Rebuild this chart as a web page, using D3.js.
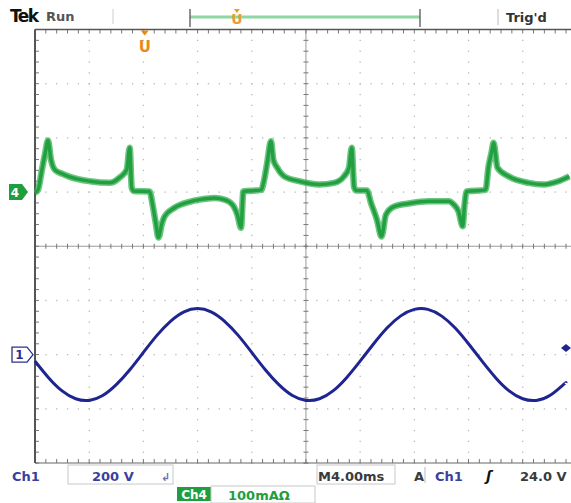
<!DOCTYPE html>
<html>
<head>
<meta charset="utf-8">
<script src="https://cdn.jsdelivr.net/npm/d3@7"></script>
<style>
  body { margin: 0; background: #fff; }
  svg text { font-family: "DejaVu Sans", Verdana, sans-serif; }
</style>
</head>
<body>
<div id="scope"></div>
<script>
// Ch1 (blue) voltage trace, time in ms, volts
var ch1Time  = [-20, -19, -18, -17, -16, -15, -14, -13, -12, -11, -10, -9, -8, -7, -6, -5, -4, -3, -2, -1,
                0, 1, 2, 3, 4, 5, 6, 7, 8, 9, 10, 11, 12, 13, 14, 15, 16, 17, 18, 19, 19.2];
var ch1Volts = [-24, -85, -134, -163, -169, -151, -111, -56, 8, 71, 123, 158, 170, 158, 123, 71, 8, -56, -111, -151,
                -169, -163, -134, -85, -24, 40, 99, 143, 167, 167, 143, 99, 40, -24, -85, -134, -163, -169, -151, -111, -104];

// Ch4 (green) current trace, time in ms, mA
var ch4Time = [-20.0, -19.78, -19.49, -19.27, -19.04, -18.82, -18.53, -18.01, -17.43, -15.95, -14.48, -13.74, -13.23,
               -13.01, -12.86, -12.71, -11.54, -11.32, -11.10, -10.88, -10.65, -10.43, -9.70, -8.59, -7.86, -6.75,
               -6.02, -5.43, -5.06, -4.79, -4.62, -3.30, -3.08, -2.86, -2.58, -2.41, -2.12, -1.60, -0.50, 0.97,
               2.08, 2.81, 3.18, 3.38, 3.55, 3.69, 4.50, 4.80, 5.24, 5.58, 5.90, 6.49, 7.59, 9.06, 10.54, 10.91,
               11.27, 11.57, 11.71, 11.86, 13.26, 13.48, 13.70, 13.85, 14.14, 14.95, 16.43, 17.53, 18.63, 19.44];
var ch4mA   = [-1, 4, 41, 69, 95, 60, 41, 34, 28, 20, 17, 27, 41,
               82, 8, 2, 1, -23, -55, -84, -60, -45, -29, -18, -14, -11,
               -14, -23, -42, -66, 1, 4, 23, 54, 94, 60, 45, 29, 20, 14,
               17, 29, 45, 82, 10, 3, 3, -20, -51, -82, -42, -27, -21, -17, -17, -23,
               -36, -63, -23, 1, 4, 47, 73, 91, 45, 29, 17, 14, 20, 29];

// readouts
var bottomRow1 = ["Ch1", "200 V", "M4.00ms", "A", "Ch1", "24.0 V"];
var bottomRow2 = ["Ch4", "100mA\u03a9"];
var trigLevel = 24;       // V
var trigTime = -11.9;     // ms
var recordMarkTime = -5.1; // ms (record view marker)

var svgWidth = 571, svgHeight = 503;
var gLeft = 35, gTop = 29.5, gBottom = 463;
var div = (gBottom - gTop) / 8;
var gRight = gLeft + 10 * div;

var svg = d3.select("#scope").append("svg")
  .attr("width", svgWidth)
  .attr("height", svgHeight);

var x = d3.scaleLinear().domain([-20, 20]).range([gLeft, gRight]);
var yDiv = d3.scaleLinear().domain([-4, 4]).range([gBottom, gTop]);
// Ch1: 200 V/div, ground 2 div below centre
var y1 = d3.scaleLinear().domain([-400, 1200]).range([gBottom, gTop]);
// Ch4: 100 mA/div, ground 1 div above centre
var y4 = d3.scaleLinear().domain([-500, 300]).range([gBottom, gTop]);

// ---- graticule ----
var grid = svg.append("g");
var dotColor = "#b8b8b8";

// dotted major lines
d3.range(-16, 20, 4).forEach(function(t) {
  if (t === 0) return;
  var gx = x(t);
  d3.range(-4, 4.01, 0.2).forEach(function(d) {
    grid.append("rect").attr("x", gx - 0.6).attr("y", yDiv(d) - 0.6)
      .attr("width", 1.3).attr("height", 1.3).attr("fill", dotColor);
  });
});
d3.range(-3, 4, 1).forEach(function(d) {
  if (d === 0) return;
  var gy = yDiv(d);
  d3.range(-20, 20.01, 0.8).forEach(function(t) {
    grid.append("rect").attr("x", x(t) - 0.6).attr("y", gy - 0.6)
      .attr("width", 1.3).attr("height", 1.3).attr("fill", dotColor);
  });
});

// centre cross
grid.append("line").attr("x1", gLeft).attr("x2", svgWidth).attr("y1", yDiv(0)).attr("y2", yDiv(0))
  .attr("stroke", "#9a9a9a").attr("stroke-width", 1);
grid.append("line").attr("x1", x(0)).attr("x2", x(0)).attr("y1", gTop).attr("y2", gBottom)
  .attr("stroke", "#9a9a9a").attr("stroke-width", 1);

// minor ticks on centre cross and edges
d3.range(-20, 20.01, 0.8).forEach(function(t) {
  grid.append("line").attr("x1", x(t)).attr("x2", x(t)).attr("y1", yDiv(0) - 2.5).attr("y2", yDiv(0) + 2.5)
    .attr("stroke", "#777");
  grid.append("line").attr("x1", x(t)).attr("x2", x(t)).attr("y1", gTop).attr("y2", gTop + 4)
    .attr("stroke", "#777");
  grid.append("line").attr("x1", x(t)).attr("x2", x(t)).attr("y1", gBottom - 4).attr("y2", gBottom)
    .attr("stroke", "#777");
});
d3.range(-4, 4.01, 0.2).forEach(function(d) {
  grid.append("line").attr("x1", x(0) - 2.5).attr("x2", x(0) + 2.5).attr("y1", yDiv(d)).attr("y2", yDiv(d))
    .attr("stroke", "#777");
  grid.append("line").attr("x1", gLeft).attr("x2", gLeft + 4).attr("y1", yDiv(d)).attr("y2", yDiv(d))
    .attr("stroke", "#777");
});

// border
grid.append("line").attr("x1", gLeft).attr("x2", svgWidth).attr("y1", gTop).attr("y2", gTop)
  .attr("stroke", "#555").attr("stroke-width", 1.6);
grid.append("line").attr("x1", gLeft).attr("x2", svgWidth).attr("y1", gBottom).attr("y2", gBottom)
  .attr("stroke", "#666").attr("stroke-width", 1.2);
grid.append("line").attr("x1", gLeft).attr("x2", gLeft).attr("y1", gTop).attr("y2", gBottom)
  .attr("stroke", "#555").attr("stroke-width", 2);

// ---- traces ----
var line1 = d3.line().x(function(d) { return x(d[0]); }).y(function(d) { return y1(d[1]); })
  .curve(d3.curveNatural);
var line4 = d3.line().x(function(d) { return x(d[0]); }).y(function(d) { return y4(d[1]); })
  .curve(d3.curveMonotoneX);

var ch1Data = ch1Time.map(function(t, i) { return [t, ch1Volts[i]]; });
var ch4Data = ch4Time.map(function(t, i) { return [t, ch4mA[i]]; });

// noisy band look: wide soft stroke under a narrower core
svg.append("path").datum(ch4Data).attr("d", line4)
  .attr("fill", "none").attr("stroke", "#3bb254").attr("stroke-width", 6.5)
  .attr("stroke-linejoin", "round").attr("opacity", 0.75);
svg.append("path").datum(ch4Data).attr("d", line4)
  .attr("fill", "none").attr("stroke", "#22a041").attr("stroke-width", 3.5)
  .attr("stroke-linejoin", "round");

svg.append("path").datum(ch1Data).attr("d", line1)
  .attr("fill", "none").attr("stroke", "#1f2590").attr("stroke-width", 3)
  .attr("stroke-linejoin", "round");

// ---- channel markers ----
var g4 = svg.append("g").attr("transform", "translate(0," + y4(0) + ")");
g4.append("path").attr("d", "M9,-8 L22,-8 L28,0 L22,8 L9,8 Z").attr("fill", "#1e9e3e");
g4.append("text").attr("x", 15).attr("y", 4.5).attr("text-anchor", "middle")
  .attr("fill", "#fff").style("font-size", "12px").style("font-weight", "bold").text("4");

var g1 = svg.append("g").attr("transform", "translate(0," + y1(0) + ")");
g1.append("path").attr("d", "M12,-7.5 L27,-7.5 L33,0 L27,7.5 L12,7.5 Z")
  .attr("fill", "#fff").attr("stroke", "#2a3090").attr("stroke-width", 1.3);
g1.append("text").attr("x", 19.5).attr("y", 4.5).attr("text-anchor", "middle")
  .attr("fill", "#2a3090").style("font-size", "12px").style("font-weight", "bold").text("1");

// trigger level marker
svg.append("path")
  .attr("d", "M" + (svgWidth - 10) + "," + y1(trigLevel) + " l5,-4 l5,4 l-5,4 Z")
  .attr("fill", "#1f2590");

// trigger position marker
var tx = x(trigTime);
svg.append("path").attr("d", "M" + (tx - 4) + "," + (gTop + 1) + " L" + (tx + 4) + "," + (gTop + 1) + " L" + tx + "," + (gTop + 6) + " Z")
  .attr("fill", "#e8891a");
svg.append("text").attr("x", tx).attr("y", gTop + 22).attr("text-anchor", "middle")
  .attr("fill", "#e8891a").style("font-size", "15px").style("font-weight", "bold").text("U");

// ---- header ----
svg.append("text").attr("x", 10).attr("y", 22).attr("fill", "#111")
  .style("font-size", "17px").style("font-weight", "bold").style("letter-spacing", "-1.5px").text("Tek");
svg.append("text").attr("x", 46).attr("y", 21).attr("fill", "#555")
  .style("font-size", "13px").style("font-weight", "bold").text("Run");
svg.append("line").attr("x1", 113).attr("x2", 113).attr("y1", 9).attr("y2", 24).attr("stroke", "#ccc");

// record view bar
svg.append("line").attr("x1", 190).attr("x2", 420).attr("y1", 17).attr("y2", 17)
  .attr("stroke", "#8fd6a0").attr("stroke-width", 3);
[190, 420].forEach(function(bx) {
  svg.append("line").attr("x1", bx).attr("x2", bx).attr("y1", 9).attr("y2", 27)
    .attr("stroke", "#555").attr("stroke-width", 1.3);
});
svg.append("text").attr("x", x(recordMarkTime)).attr("y", 24).attr("text-anchor", "middle")
  .attr("fill", "#eb9a35").style("font-size", "14px").style("font-weight", "bold").text("U");
svg.append("path").attr("d", "M" + (x(recordMarkTime) - 3) + ",9 L" + (x(recordMarkTime) + 3) + ",9 L" + x(recordMarkTime) + ",13 Z")
  .attr("fill", "#eb9a35");

svg.append("line").attr("x1", 498).attr("x2", 498).attr("y1", 9).attr("y2", 25).attr("stroke", "#bbb");
svg.append("text").attr("x", 506).attr("y", 22).attr("fill", "#333")
  .style("font-size", "13px").style("font-weight", "bold").text("Trig'd");

// ---- bottom readouts ----
var blue = "#3a3f9e", dark = "#3a3a3a", green = "#1e9e3e";
svg.append("text").attr("x", 12).attr("y", 481).attr("fill", blue)
  .style("font-size", "13px").style("font-weight", "bold").text(bottomRow1[0]);
svg.append("rect").attr("x", 68).attr("y", 465).attr("width", 105).attr("height", 19)
  .attr("fill", "#fff").attr("stroke", "#c8c8c8");
svg.append("text").attr("x", 92).attr("y", 481).attr("fill", blue)
  .style("font-size", "13px").style("font-weight", "bold").text(bottomRow1[1]);
svg.append("text").attr("x", 161).attr("y", 481).attr("fill", "#6a70c0")
  .style("font-size", "11px").style("font-weight", "bold").text("\u21b2");

svg.append("rect").attr("x", 317).attr("y", 465).attr("width", 78).attr("height", 19)
  .attr("fill", "#fff").attr("stroke", "#c8c8c8");
svg.append("text").attr("x", 318).attr("y", 481).attr("fill", dark)
  .style("font-size", "13px").style("font-weight", "bold").text(bottomRow1[2]);
svg.append("text").attr("x", 414).attr("y", 481).attr("fill", dark)
  .style("font-size", "13px").style("font-weight", "bold").text(bottomRow1[3]);
svg.append("line").attr("x1", 425).attr("x2", 425).attr("y1", 467).attr("y2", 483).attr("stroke", "#bbb");
svg.append("text").attr("x", 435).attr("y", 481).attr("fill", blue)
  .style("font-size", "13px").style("font-weight", "bold").text(bottomRow1[4]);
svg.append("text").attr("x", 486).attr("y", 481).attr("fill", "#111")
  .style("font-size", "14px").style("font-weight", "bold").style("font-style", "italic").text("\u0283");
svg.append("text").attr("x", 520).attr("y", 481).attr("fill", dark)
  .style("font-size", "13px").style("font-weight", "bold").text(bottomRow1[5]);

svg.append("rect").attr("x", 177).attr("y", 487).attr("width", 34).attr("height", 14).attr("fill", green);
svg.append("text").attr("x", 194).attr("y", 499).attr("text-anchor", "middle").attr("fill", "#fff")
  .style("font-size", "12px").style("font-weight", "bold").text(bottomRow2[0]);
svg.append("rect").attr("x", 211).attr("y", 486).attr("width", 104).attr("height", 17)
  .attr("fill", "none").attr("stroke", "#c8c8c8");
svg.append("text").attr("x", 228).attr("y", 499.5).attr("fill", green)
  .style("font-size", "13px").style("font-weight", "bold").text(bottomRow2[1]);
</script>
</body>
</html>
